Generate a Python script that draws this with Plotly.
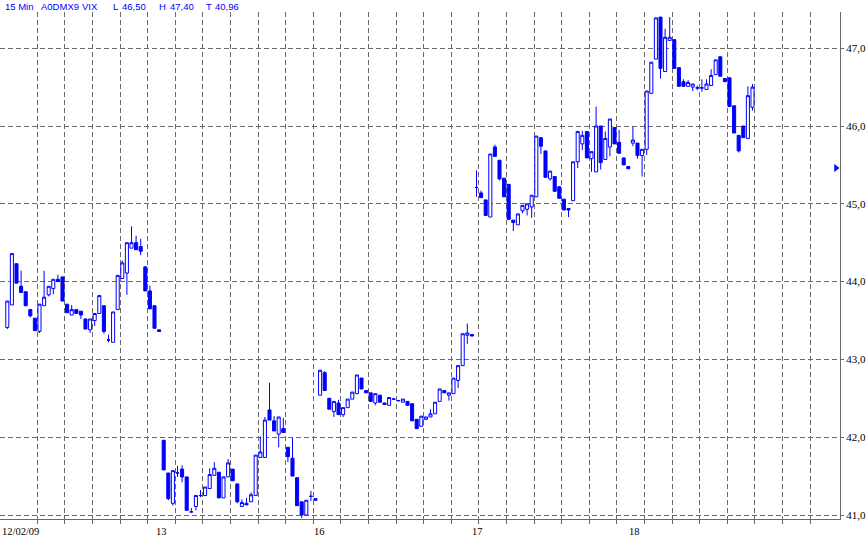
import plotly.graph_objects as go

# ---------------- data (15-min bars) ----------------
opens = [
    # 12/02/09
    43.41, 43.70, 44.23, 43.94, 43.87, 43.64, 43.53, 43.36, 43.69, 43.83,
    43.91, 44.03, 44.06, 43.71, 43.57, 43.64, 43.62, 43.52, 43.38, 43.50,
    43.59, 43.69, 43.25, 43.22, 43.64, 44.04, 44.11, 44.43, 44.50, 44.45,
    44.19, 43.88, 43.69, 43.38,
    # 13
    41.96, 41.54, 41.15, 41.54, 41.59, 41.49, 41.04, 41.11, 41.25, 41.25,
    41.34, 41.51, 41.55, 41.22, 41.49, 41.59, 41.40, 41.11, 41.15, 41.17,
    41.25, 41.74, 41.74, 42.35, 42.21, 42.04, 42.11, 41.87, 41.73, 41.48,
    41.17, 41.00, 41.24, 41.21,
    # 16
    42.54, 42.83, 42.50, 42.33, 42.44, 42.29, 42.38, 42.49, 42.56, 42.76,
    42.60, 42.57, 42.44, 42.54, 42.44, 42.41, 42.49, 42.47, 42.45, 42.46,
    42.43, 42.23, 42.14, 42.23, 42.26, 42.30, 42.46, 42.60, 42.54, 42.56,
    42.73, 42.92, 43.31, 43.32,
    # 17
    45.21, 45.14, 45.05, 44.83, 45.73, 45.56, 45.33, 45.25, 44.79, 44.73,
    44.91, 44.93, 44.96, 45.09, 45.85, 45.68, 45.32, 45.35, 45.22, 45.06,
    44.94, 45.04, 45.54, 45.77, 45.93, 45.58, 45.41, 46.00, 45.57, 45.73,
    45.98, 45.79, 45.59, 45.48,
    # 18
    45.78, 45.78, 45.62, 45.70, 46.42, 46.86, 47.40, 46.70, 47.10, 47.11,
    46.75, 46.57, 46.51, 46.50, 46.49, 46.49, 46.47, 46.52, 46.66, 46.89,
    46.61, 46.62, 46.26, 45.88, 46.00, 45.84, 46.24,
]
highs = [
    43.75, 44.36, 44.23, 44.14, 43.87, 43.64, 43.53, 43.71, 44.14, 43.94,
    44.03, 44.09, 44.06, 43.71, 43.70, 43.64, 43.62, 43.52, 43.52, 43.59,
    43.83, 43.69, 43.32, 43.61, 44.08, 44.27, 44.50, 44.71, 44.59, 44.55,
    44.19, 43.95, 43.69, 43.38,
    41.96, 41.54, 41.57, 41.63, 41.64, 41.49, 41.09, 41.25, 41.32, 41.36,
    41.60, 41.68, 41.55, 41.49, 41.72, 41.59, 41.40, 41.20, 41.22, 41.29,
    41.77, 42.01, 42.26, 42.70, 42.27, 42.26, 42.25, 41.87, 41.99, 41.48,
    41.17, 41.19, 41.31, 41.21,
    42.86, 42.85, 42.50, 42.46, 42.48, 42.38, 42.49, 42.58, 42.80, 42.76,
    42.60, 42.57, 42.56, 42.54, 42.44, 42.51, 42.50, 42.48, 42.49, 42.46,
    42.43, 42.23, 42.27, 42.26, 42.36, 42.45, 42.62, 42.60, 42.57, 42.76,
    42.92, 43.33, 43.46, 43.32,
    45.43, 45.17, 45.05, 45.64, 45.76, 45.56, 45.33, 45.25, 44.79, 44.87,
    44.98, 45.00, 45.11, 45.87, 45.85, 45.68, 45.42, 45.35, 45.22, 45.06,
    44.94, 45.54, 45.93, 45.94, 45.93, 45.67, 46.25, 46.00, 45.93, 46.09,
    45.98, 45.95, 45.59, 45.48,
    45.99, 45.78, 45.70, 46.45, 46.82, 47.39, 47.40, 47.25, 47.40, 47.11,
    46.75, 46.60, 46.59, 46.54, 46.52, 46.60, 46.60, 46.73, 46.85, 46.89,
    46.61, 46.62, 46.26, 45.88, 46.00, 46.51, 46.54,
]
lows = [
    43.39, 43.70, 43.98, 43.86, 43.69, 43.54, 43.37, 43.34, 43.69, 43.81,
    43.84, 44.00, 43.75, 43.60, 43.57, 43.59, 43.52, 43.39, 43.34, 43.43,
    43.59, 43.33, 43.22, 43.22, 43.64, 44.04, 43.83, 44.43, 44.41, 44.34,
    43.88, 43.65, 43.40, 43.36,
    41.58, 41.19, 41.12, 41.49, 41.42, 41.06, 41.03, 41.06, 41.23, 41.25,
    41.34, 41.51, 41.22, 41.22, 41.49, 41.44, 41.15, 41.11, 41.13, 41.17,
    41.25, 41.74, 41.74, 42.22, 42.08, 41.87, 42.06, 41.68, 41.50, 41.12,
    40.96, 41.00, 41.18, 41.19,
    42.54, 42.60, 42.36, 42.26, 42.29, 42.26, 42.38, 42.49, 42.56, 42.62,
    42.57, 42.46, 42.41, 42.45, 42.42, 42.41, 42.48, 42.46, 42.45, 42.41,
    42.21, 42.11, 42.14, 42.23, 42.26, 42.30, 42.46, 42.57, 42.47, 42.56,
    42.63, 42.92, 43.20, 43.30,
    45.09, 45.08, 44.85, 44.83, 45.61, 45.30, 45.09, 44.80, 44.65, 44.73,
    44.88, 44.85, 44.82, 45.09, 45.64, 45.34, 45.30, 45.16, 45.07, 44.92,
    44.83, 45.04, 45.46, 45.69, 45.59, 45.41, 45.41, 45.44, 45.57, 45.61,
    45.77, 45.65, 45.50, 45.45,
    45.74, 45.58, 45.35, 45.63, 46.42, 46.86, 46.61, 46.70, 47.10, 46.74,
    46.51, 46.51, 46.51, 46.45, 46.46, 46.44, 46.47, 46.52, 46.66, 46.64,
    46.57, 46.25, 45.91, 45.66, 45.85, 45.84, 46.20,
]
closes = [
    43.75, 44.36, 43.98, 43.86, 43.69, 43.56, 43.37, 43.71, 43.80, 43.94,
    44.03, 44.00, 43.75, 43.60, 43.64, 43.59, 43.57, 43.39, 43.52, 43.59,
    43.82, 43.36, 43.25, 43.61, 44.08, 44.24, 44.50, 44.50, 44.41, 44.39,
    43.88, 43.65, 43.40, 43.36,
    41.58, 41.21, 41.57, 41.54, 41.49, 41.06, 41.04, 41.25, 41.25, 41.36,
    41.52, 41.60, 41.22, 41.49, 41.67, 41.44, 41.17, 41.16, 41.13, 41.26,
    41.77, 41.81, 42.22, 42.22, 42.08, 42.26, 42.06, 41.75, 41.50, 41.12,
    41.00, 41.19, 41.24, 41.19,
    42.86, 42.60, 42.36, 42.46, 42.29, 42.38, 42.49, 42.58, 42.80, 42.62,
    42.57, 42.46, 42.56, 42.45, 42.42, 42.51, 42.49, 42.47, 42.49, 42.41,
    42.21, 42.11, 42.27, 42.26, 42.30, 42.45, 42.62, 42.57, 42.57, 42.76,
    42.92, 43.33, 43.34, 43.30,
    45.21, 45.08, 44.85, 45.64, 45.61, 45.32, 45.09, 44.80, 44.76, 44.87,
    44.98, 45.00, 45.11, 45.87, 45.74, 45.34, 45.42, 45.16, 45.07, 44.92,
    44.92, 45.54, 45.93, 45.88, 45.59, 45.67, 46.00, 45.53, 45.84, 46.09,
    45.77, 45.65, 45.50, 45.45,
    45.82, 45.62, 45.70, 46.45, 46.82, 47.39, 46.74, 47.14, 47.14, 46.74,
    46.51, 46.51, 46.56, 46.54, 46.49, 46.49, 46.54, 46.65, 46.85, 46.64,
    46.57, 46.25, 45.91, 45.68, 45.85, 46.39, 46.50,
]
bar_index = list(range(len(opens)))

day_labels = ["12/02/09", "13", "16", "17", "18"]
y_ticks = [41, 42, 43, 44, 45, 46, 47]
y_tick_labels = ["41,0", "42,0", "43,0", "44,0", "45,0", "46,0", "47,0"]
header_parts = ["15 Min", "A0DMX9", "VIX", "L", "46,50", "H", "47,40", "T", "40,96"]
marker_price = [45.46]

# ---------------- layout geometry ----------------
W, H = 866, 538
M_L, M_R, M_T, M_B = 0, 26, 12, 19
PW = W - M_L - M_R
PX0, STEP = 7.3, 4.6          # pixel of first bar, pixels per bar
x_range = [-PX0 / STEP, (PW - PX0) / STEP]
grid_x = [6.5 + 6 * k for k in range(29)]

BLUE = "#0000ff"
GRID = "#6a6a6a"

fig = go.Figure()
fig.add_trace(go.Candlestick(
    x=bar_index, open=opens, high=highs, low=lows, close=closes,
    increasing=dict(line=dict(color=BLUE, width=1), fillcolor="#ffffff"),
    decreasing=dict(line=dict(color=BLUE, width=1), fillcolor=BLUE),
    whiskerwidth=0, showlegend=False, hoverinfo="skip",
))
fig.add_trace(go.Scatter(
    x=[(836 - PX0) / STEP], y=marker_price, mode="markers",
    marker=dict(symbol="triangle-right", size=7, color=BLUE),
    showlegend=False, hoverinfo="skip", cliponaxis=False,
))

fig.update_layout(
    width=W, height=H,
    margin=dict(l=M_L, r=M_R, t=M_T, b=M_B, autoexpand=False),
    paper_bgcolor="white", plot_bgcolor="white",
    boxgap=0.05,
    showlegend=False,
    xaxis=dict(
        range=x_range, rangeslider=dict(visible=False),
        tickmode="array", tickvals=grid_x, showticklabels=False,
        ticks="outside", ticklen=4, tickcolor=GRID,
        showgrid=True, gridcolor=GRID, gridwidth=1, griddash="5px,3px",
        showline=True, linecolor=GRID, linewidth=1, zeroline=False,
    ),
    yaxis=dict(
        side="right",
        range=[41 - 4 / 77.8, 41 + (515 - 12) / 77.8],
        tickmode="array", tickvals=y_ticks, ticktext=y_tick_labels,
        ticks="outside", ticklen=3, tickcolor=GRID,
        tickfont=dict(family="Liberation Serif", size=11, color="black"),
        showgrid=True, gridcolor=GRID, gridwidth=1, griddash="5px,3px",
        showline=True, linecolor=GRID, linewidth=1, zeroline=False,
    ),
)

# date labels under the axis
day_px = [0, 161.5, 319, 477, 634.5]
for lbl, px in zip(day_labels, day_px):
    fig.add_annotation(
        x=px / PW, xref="paper", y=0, yref="paper", yanchor="top",
        yshift=-5, xanchor="left" if px == 0 else "center",
        text=lbl, showarrow=False,
        font=dict(family="Liberation Serif", size=10.5, color="black"),
    )

# header text
head_px = [2.5, 39, 80, 110.5, 120, 157, 168, 204, 213]
for txt, px in zip(header_parts, head_px):
    fig.add_annotation(
        x=px / PW, xref="paper", y=1, yref="paper", yanchor="middle",
        yshift=6, xanchor="left", text=txt, showarrow=False,
        font=dict(family="Liberation Sans", size=9.5, color=BLUE),
    )

fig.write_html(
    "out.html",
    config={"displayModeBar": False, "staticPlot": True},
    post_script="document.body.style.margin='0px';document.body.style.padding='0px';",
)
